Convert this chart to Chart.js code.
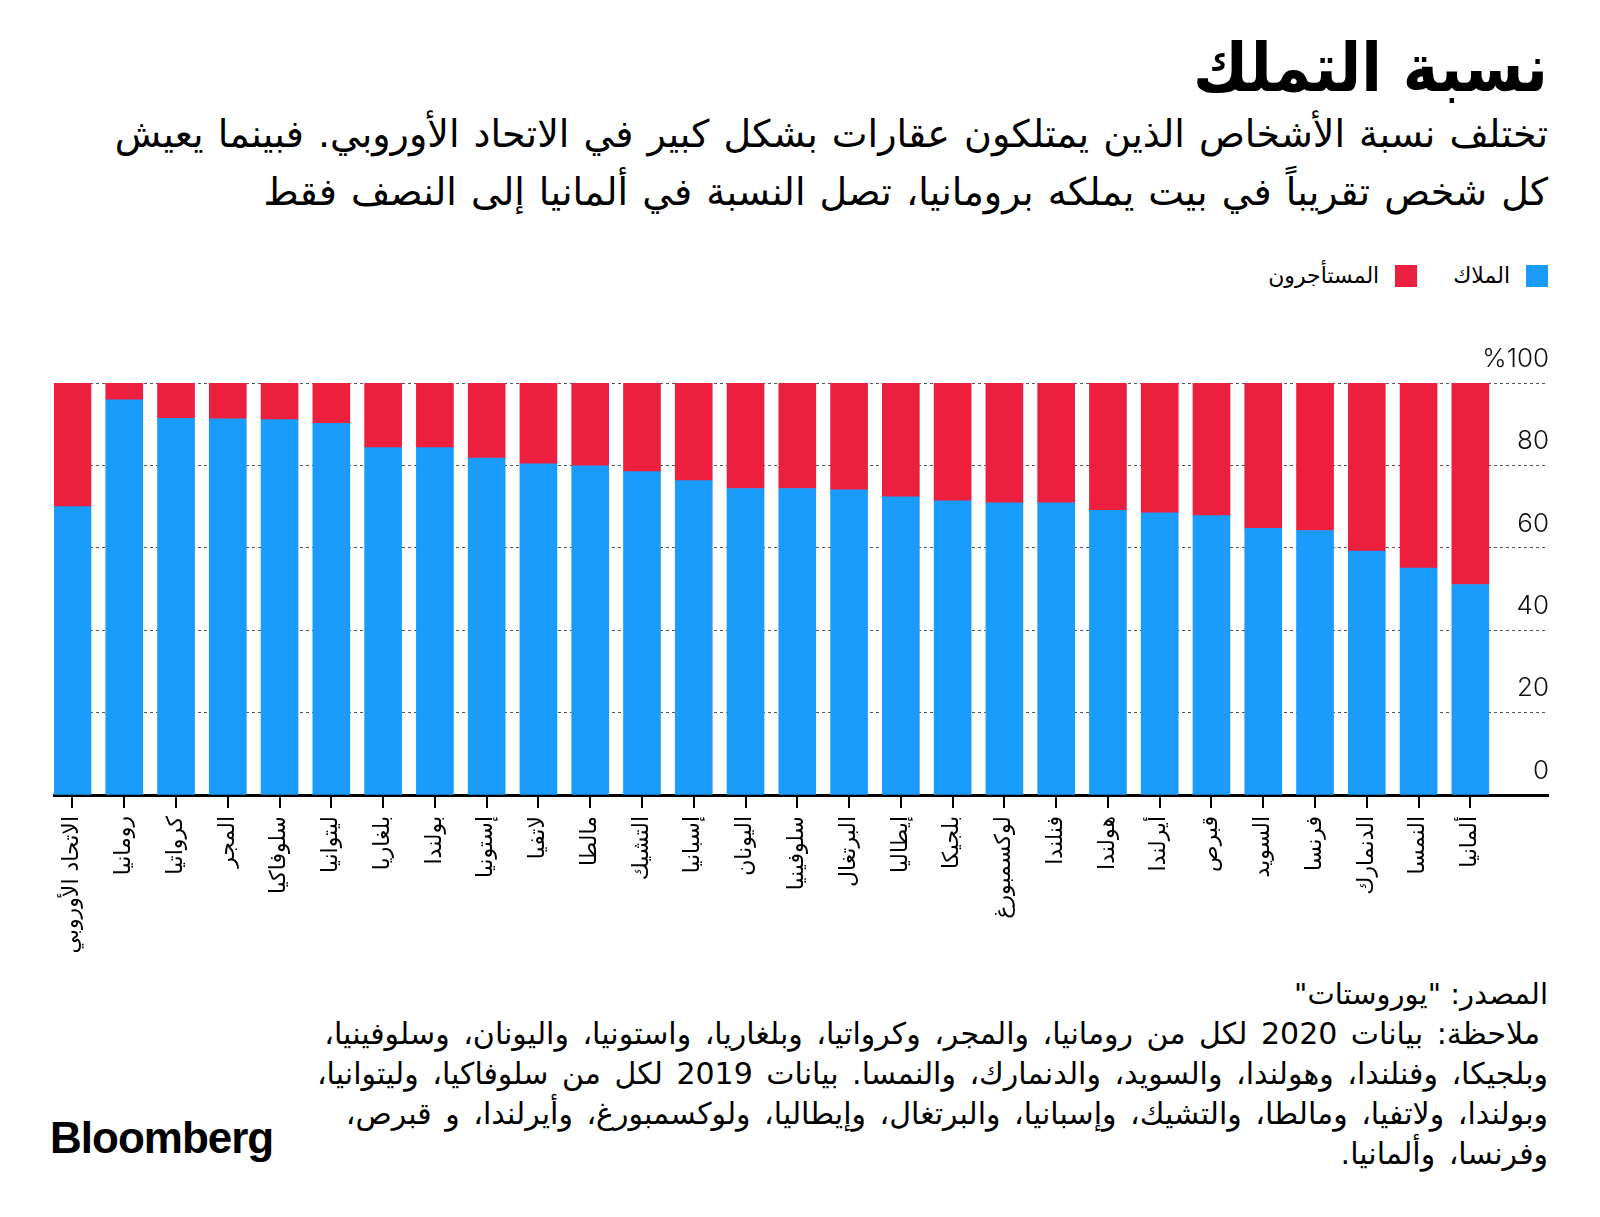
<!DOCTYPE html>
<html lang="ar">
<head>
<meta charset="utf-8">
<script src="https://cdn.jsdelivr.net/npm/chart.js@4.4.1/dist/chart.umd.min.js"></script>
<style>
  html, body { margin: 0; padding: 0; background: #fff; }
  body { width: 1600px; height: 1217px; position: relative; overflow: hidden; font-family: "DejaVu Sans", sans-serif; color: #000; }
  .rtl { direction: rtl; text-align: right; position: absolute; right: 52px; }
  #title { top: 25px; font-size: 67px; font-weight: bold; line-height: 86px; font-family: "DejaVu Sans Condensed", "DejaVu Sans", sans-serif; }
  #subtitle { top: 105px; font-size: 38px; line-height: 58px; word-spacing: 2px; }
  #legend { top: 263px; display: flex; align-items: center; font-size: 22px; }
  #legend .item { display: flex; align-items: center; margin-left: 36px; }
  #legend .sw { width: 22px; height: 22px; margin-left: 16px; }
  #chart-box { position: absolute; left: 0; top: 330px; width: 1600px; height: 640px; }
  #footer { top: 974px; font-size: 29px; line-height: 40px; }
  #footer .note { font-size: 30px; word-spacing: 4px; }
  #footer .first { margin-right: 8px; }
  #logo { position: absolute; left: 50px; top: 1113px; font-family: "Liberation Sans", Arial, sans-serif; font-weight: bold; font-size: 44px; letter-spacing: -1px; }
</style>
</head>
<body>
<div id="title" class="rtl">نسبة التملك</div>
<div id="subtitle" class="rtl">تختلف نسبة الأشخاص الذين يمتلكون عقارات بشكل كبير في الاتحاد الأوروبي. فبينما يعيش<br>كل شخص تقريباً في بيت يملكه برومانيا، تصل النسبة في ألمانيا إلى النصف فقط</div>
<div id="legend" class="rtl"></div>
<div id="chart-box"><canvas id="ownershipChart" width="1600" height="640"></canvas></div>
<div id="footer" class="rtl">
  <div>المصدر: "يوروستات"</div>
  <div class="note first">ملاحظة: بيانات 2020 لكل من رومانيا، والمجر، وكرواتيا، وبلغاريا، واستونيا، واليونان، وسلوفينيا،</div>
  <div class="note">وبلجيكا، وفنلندا، وهولندا، والسويد، والدنمارك، والنمسا.  بيانات 2019 لكل من سلوفاكيا، وليتوانيا،</div>
  <div class="note">وبولندا، ولاتفيا، ومالطا، والتشيك، وإسبانيا، والبرتغال، وإيطاليا، ولوكسمبورغ، وأيرلندا، و قبرص،</div>
  <div class="note">وفرنسا، وألمانيا.</div>
</div>
<div id="logo">Bloomberg</div>

<script>
const countries = ['الاتحاد الأوروبي', 'رومانيا', 'كرواتيا', 'المجر', 'سلوفاكيا', 'ليتوانيا', 'بلغاريا', 'بولندا', 'إستونيا', 'لاتفيا', 'مالطا', 'التشيك', 'إسبانيا', 'اليونان', 'سلوفينيا', 'البرتغال', 'إيطاليا', 'بلجيكا', 'لوكسمبورغ', 'فنلندا', 'هولندا', 'أيرلندا', 'قبرص', 'السويد', 'فرنسا', 'الدنمارك', 'النمسا', 'ألمانيا'];
const owners = [70.0, 95.9, 91.4, 91.3, 91.1, 90.2, 84.3, 84.3, 81.8, 80.4, 79.9, 78.5, 76.3, 74.4, 74.4, 74.1, 72.4, 71.4, 70.9, 70.9, 69.1, 68.5, 67.8, 64.7, 64.2, 59.2, 55.1, 51.1];
const renters = [30.0, 4.1, 8.6, 8.7, 8.9, 9.8, 15.7, 15.7, 18.2, 19.6, 20.1, 21.5, 23.7, 25.6, 25.6, 25.9, 27.6, 28.6, 29.1, 29.1, 30.9, 31.5, 32.2, 35.3, 35.8, 40.8, 44.9, 48.9];
const yTicks = [0, 20, 40, 60, 80, 100];
const seriesNames = ['الملاك', 'المستأجرون'];
const seriesColors = ['#1a9cfd', '#ec1f3f'];

// legend (html, right to left)
document.getElementById('legend').innerHTML = seriesNames.map((name, i) =>
    `<div class="item"><span class="sw" style="background:${seriesColors[i]}"></span><span>${name}</span></div>`
).join('');

const toPoints = values => values.map((v, i) => ({ x: i, y: v }));

// short black marks under the axis, one per country
const tickMarks = {
    id: 'tickMarks',
    afterDraw(chart) {
        const x = chart.scales.x;
        const ctx = chart.ctx;
        ctx.save();
        ctx.strokeStyle = '#000';
        ctx.lineWidth = 2;
        countries.forEach((c, i) => {
            const px = Math.round(x.getPixelForValue(i));
            ctx.beginPath();
            ctx.moveTo(px, x.top);
            ctx.lineTo(px, x.top + 13);
            ctx.stroke();
        });
        ctx.restore();
    }
};

new Chart(document.getElementById('ownershipChart'), {
    type: 'bar',
    data: {
        datasets: [
            { label: seriesNames[0], data: toPoints(owners), backgroundColor: seriesColors[0], barThickness: 37 },
            { label: seriesNames[1], data: toPoints(renters), backgroundColor: seriesColors[1], barThickness: 37 }
        ]
    },
    options: {
        responsive: false,
        animation: false,
        devicePixelRatio: 1,
        layout: { padding: { left: 54, right: 52, top: 53, bottom: 10 } },
        plugins: { legend: { display: false }, tooltip: { enabled: false } },
        scales: {
            x: {
                type: 'linear',
                stacked: true,
                offset: false,
                min: -0.357,
                max: 28.5,
                afterBuildTicks: s => { s.ticks = countries.map((c, i) => ({ value: i })); },
                afterFit: s => { s.height = 165; },
                grid: { offset: false, drawOnChartArea: false, drawTicks: true, tickLength: 12, color: '#000', tickColor: '#000', tickWidth: 2, lineWidth: 2 },
                border: { display: true, color: '#000', width: 3 },
                ticks: {
                    autoSkip: false,
                    minRotation: 90,
                    maxRotation: 90,
                    padding: 9,
                    color: '#000',
                    font: { family: 'DejaVu Sans', size: 22 },
                    callback: v => countries[v]
                }
            },
            y: {
                position: 'right',
                stacked: true,
                min: 0,
                max: 100,
                afterBuildTicks: s => { s.ticks = yTicks.map(v => ({ value: v })); },
                afterFit: s => { s.width = 0; },
                grid: { drawTicks: false, color: '#555', lineWidth: 1 },
                border: { display: false, dash: [3, 3] },
                ticks: {
                    mirror: true,
                    padding: 1,
                    labelOffset: -24,
                    color: '#111',
                    font: { family: 'Inter', size: 26, weight: 300 },
                    callback: v => v === 100 ? '%100' : v
                }
            }
        }
    },
    plugins: [tickMarks]
});
</script>
</body>
</html>
